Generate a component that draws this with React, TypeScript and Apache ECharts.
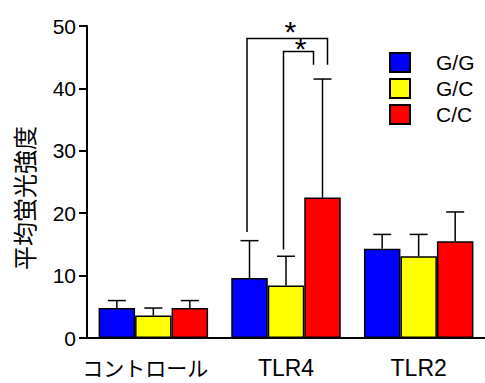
import React, { useEffect, useRef } from 'react';
import * as echarts from 'echarts';

const categories = ['コントロール', 'TLR4', 'TLR2'];
const seriesNames = ['G/G', 'G/C', 'C/C'];
const ggMean = [4.8, 9.6, 14.3];
const ggSd = [1.2, 6.0, 2.3];
const gcMean = [3.6, 8.4, 13.1];
const gcSd = [1.2, 4.7, 3.5];
const ccMean = [4.8, 22.5, 15.5];
const ccSd = [1.2, 19.0, 4.7];
const yMin = 0;
const yMax = 50;
const yInterval = 10;
// significance brackets: [category index, left series, right series, top value, left foot value, right foot value]
const bracketOuter = [1, 0, 2, 48.0, 17.0, 43.8];
const bracketInner = [1, 1, 2, 45.9, 14.2, 43.8];
const sigMark = '*';

const colors = ['#0000ff', '#ffff00', '#ff0000'];
const BAR_W = 36.5;
const CAP_HALF = 9;
const BR_LEFT_DX = -2.5;
const BR_RIGHT_DX = [5, -9];
const STAR_DX = [3, 2];
const STAR_DY = [7, 3];

export default function App() {
  const ref = useRef<HTMLDivElement>(null);
  useEffect(() => {
    document.body.style.margin = '0';
    const chart = echarts.init(ref.current!, undefined, { renderer: 'svg' });
    const means = [ggMean, gcMean, ccMean];
    const sds = [ggSd, gcSd, ccSd];

    const barSeries = seriesNames.map((name, k) => ({
      name,
      type: 'bar',
      data: means[k],
      barWidth: BAR_W,
      barGap: '0%',
      itemStyle: { color: colors[k], borderColor: '#000', borderWidth: 1.5 },
      z: 2,
    }));

    const errSeries = seriesNames.map((name, k) => ({
      name: name + ' err',
      type: 'custom',
      clip: false,
      z: 3,
      data: means[k].map((m, i) => [i, m, m + sds[k][i]]),
      renderItem: (params: any, api: any) => {
        const base = api.coord([api.value(0), api.value(1)]);
        const top = api.coord([api.value(0), api.value(2)]);
        const x = base[0] + (k - 1) * BAR_W;
        return {
          type: 'group',
          children: [
            { type: 'line', shape: { x1: x, y1: base[1], x2: x, y2: top[1] }, style: { stroke: '#000', lineWidth: 1.5 } },
            { type: 'line', shape: { x1: x - CAP_HALF, y1: top[1], x2: x + CAP_HALF, y2: top[1] }, style: { stroke: '#000', lineWidth: 1.5 } },
          ],
        };
      },
    }));

    const bracketSeries = {
      name: 'sig',
      type: 'custom',
      clip: false,
      z: 4,
      data: [bracketOuter, bracketInner],
      renderItem: (params: any, api: any) => {
        const i = params.dataIndex;
        const cat = api.value(0);
        const ls = api.value(1);
        const rs = api.value(2);
        const top = api.coord([cat, api.value(3)]);
        const lb = api.coord([cat, api.value(4)]);
        const rb = api.coord([cat, api.value(5)]);
        const cx = top[0];
        const xl = cx + (ls - 1) * BAR_W + BR_LEFT_DX;
        const xr = cx + (rs - 1) * BAR_W + BR_RIGHT_DX[i];
        return {
          type: 'group',
          children: [
            {
              type: 'polyline',
              shape: { points: [[xl, lb[1]], [xl, top[1]], [xr, top[1]], [xr, rb[1]]] },
              style: { stroke: '#000', lineWidth: 1.5, fill: 'none' },
            },
            {
              type: 'text',
              x: (xl + xr) / 2 + STAR_DX[i],
              y: top[1] - STAR_DY[i],
              style: {
                text: sigMark,
                fontSize: 30,
                fontFamily: 'Liberation Sans',
                fill: '#000',
                align: 'center',
                verticalAlign: 'middle',
              },
            },
          ],
        };
      },
    };

    chart.setOption({
      animation: false,
      grid: { left: 87, right: 0, top: 26, bottom: 45, containLabel: false },
      legend: {
        data: seriesNames,
        orient: 'vertical',
        left: 389,
        top: 43.5,
        padding: 0,
        itemWidth: 20,
        itemHeight: 19,
        itemGap: -12,
        icon: 'rect',
        selectedMode: false,
        textStyle: {
          fontSize: 21,
          fontFamily: 'Liberation Sans',
          color: '#000',
          lineHeight: 20,
          padding: [18, 0, 0, 21],
        },
      },
      xAxis: {
        type: 'category',
        data: categories,
        axisLine: { lineStyle: { color: '#000', width: 2 } },
        axisTick: { show: false },
        axisLabel: {
          margin: 18,
          formatter: (v: string) => (/[\u30a0-\u30ff]/.test(v) ? `{jp|${v}}` : `{en|${v}}`),
          rich: {
            jp: { fontFamily: 'Noto Sans CJK JP', fontSize: 21, color: '#000', padding: [0, 16, 0, 0] },
            en: { fontFamily: 'Liberation Sans', fontSize: 23, color: '#000' },
          },
        },
      },
      yAxis: {
        type: 'value',
        min: yMin,
        max: yMax,
        interval: yInterval,
        name: '平均蛍光強度',
        nameLocation: 'middle',
        nameRotate: 90,
        nameGap: 52,
        nameTextStyle: {
          fontFamily: 'Noto Sans CJK JP',
          fontSize: 24,
          color: '#000',
          padding: [0, 32, 0, 0],
        },
        axisLine: { show: true, lineStyle: { color: '#000', width: 2 } },
        axisTick: { show: true, length: 8, lineStyle: { color: '#000', width: 2 } },
        axisLabel: { fontFamily: 'Liberation Sans', fontSize: 21, color: '#000', margin: 11 },
        splitLine: { show: false },
      },
      series: [...barSeries, ...errSeries, bracketSeries],
    });
    return () => chart.dispose();
  }, []);
  return <div ref={ref} style={{ width: 485, height: 383 }} />;
}
